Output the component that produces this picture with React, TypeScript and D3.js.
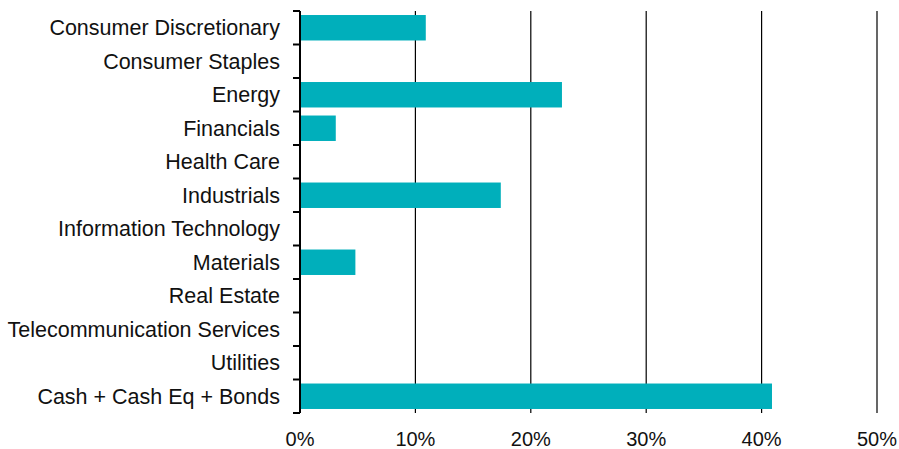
import { useRef, useEffect } from "react";
import * as d3 from "d3";

const categories = [
  "Consumer Discretionary",
  "Consumer Staples",
  "Energy",
  "Financials",
  "Health Care",
  "Industrials",
  "Information Technology",
  "Materials",
  "Real Estate",
  "Telecommunication Services",
  "Utilities",
  "Cash + Cash Eq + Bonds",
];
const weights = [10.9, 0, 22.7, 3.1, 0, 17.4, 0, 4.8, 0, 0, 0, 40.9];
const xTicks = [0, 10, 20, 30, 40, 50];

export default function App() {
  const svgRef = useRef<SVGSVGElement>(null);
  const width = 899;
  const height = 449;
  const margin = { top: 11, right: 22, bottom: 36, left: 300 };

  useEffect(() => {
    const svg = d3.select(svgRef.current);
    svg.selectAll("*").remove();

    const x = d3.scaleLinear().domain([0, 50]).range([margin.left, width - margin.right]);
    const y = d3
      .scaleBand()
      .domain(categories)
      .range([margin.top, height - margin.bottom])
      .paddingInner(0.24)
      .paddingOuter(0.12);

    // gridlines
    svg
      .append("g")
      .selectAll("line")
      .data(xTicks.slice(1))
      .join("line")
      .attr("x1", (d) => x(d))
      .attr("x2", (d) => x(d))
      .attr("y1", margin.top)
      .attr("y2", height - margin.bottom)
      .attr("stroke", "#000")
      .attr("stroke-width", 1.2);

    // bars
    svg
      .append("g")
      .selectAll("rect")
      .data(categories)
      .join("rect")
      .attr("x", x(0))
      .attr("y", (d) => y(d)!)
      .attr("width", (d, i) => x(weights[i]) - x(0))
      .attr("height", y.bandwidth())
      .attr("fill", "#00AFBB");

    // y axis line + ticks at band boundaries
    const step = y.step();
    const top = margin.top;
    const bottom = height - margin.bottom;
    svg
      .append("line")
      .attr("x1", x(0))
      .attr("x2", x(0))
      .attr("y1", top)
      .attr("y2", bottom)
      .attr("stroke", "#000")
      .attr("stroke-width", 2);
    svg
      .append("g")
      .selectAll("line")
      .data(d3.range(categories.length + 1))
      .join("line")
      .attr("x1", x(0) - 7)
      .attr("x2", x(0))
      .attr("y1", (i) => top + i * step)
      .attr("y2", (i) => top + i * step)
      .attr("stroke", "#000")
      .attr("stroke-width", 2);

    // category labels
    svg
      .append("g")
      .selectAll("text")
      .data(categories)
      .join("text")
      .attr("x", 280)
      .attr("y", (d) => y(d)! + y.bandwidth() / 2)
      .attr("dy", "0.35em")
      .attr("text-anchor", "end")
      .attr("font-family", "Liberation Sans, Arial, sans-serif")
      .attr("font-size", 21.5)
      .attr("fill", "#111")
      .text((d) => d);

    // x tick labels
    svg
      .append("g")
      .selectAll("text")
      .data(xTicks)
      .join("text")
      .attr("x", (d) => x(d))
      .attr("y", 446)
      .attr("text-anchor", "middle")
      .attr("font-family", "Liberation Sans, Arial, sans-serif")
      .attr("font-size", 20)
      .attr("fill", "#111")
      .text((d) => `${d}%`);
  }, []);

  return (
    <div style={{ position: "absolute", left: 0, top: 0 }}>
      <svg ref={svgRef} width={width} height={height} style={{ display: "block", background: "#fff" }} />
    </div>
  );
}
